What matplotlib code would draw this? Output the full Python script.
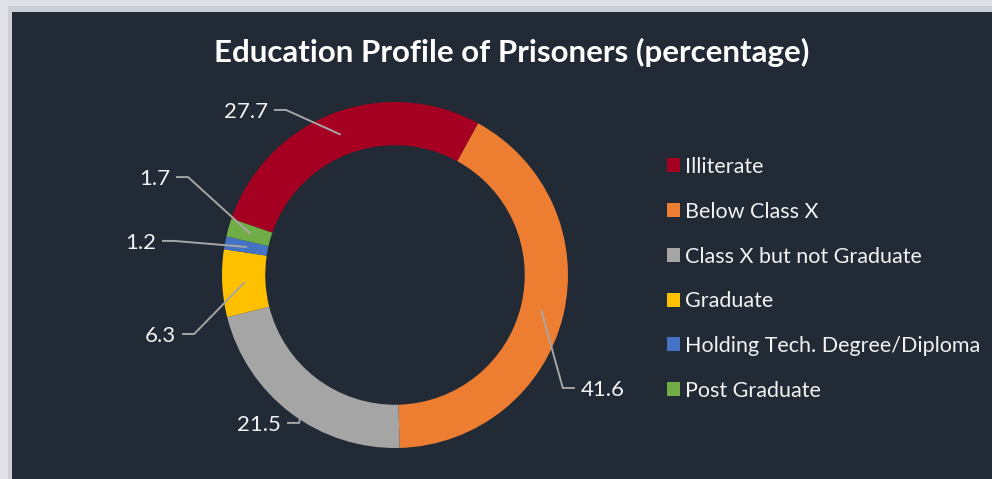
import matplotlib
matplotlib.use("Agg")
import matplotlib.pyplot as plt
from matplotlib.patches import Rectangle
import numpy as np

# data
categories = ["Illiterate", "Below Class X", "Class X but not Graduate",
              "Graduate", "Holding Tech. Degree/Diploma", "Post Graduate"]
shares = [27.7, 41.6, 21.5, 6.3, 1.2, 1.7]
colors = ["#a50021", "#ed7d31", "#a5a5a5", "#ffc000", "#4472c4", "#70ad47"]

# where each value label sits (data units, ring radius = 1)
label_anchor = [(-0.70, 0.954), (1.04, -0.653), (-0.624, -0.855),
                (-1.231, -0.341), (-1.347, 0.197), (-1.266, 0.566)]

W, H, DPI = 992, 479, 100
CX, CY, R = 395, 275, 173  # pixel centre and outer radius of the ring
PANEL = "#222a35"

fig = plt.figure(figsize=(W / DPI, H / DPI), dpi=DPI)
fig.patch.set_facecolor("#dfe1e6")
# soft shadow + dark panel, kept under the axes
fig.patches.append(Rectangle((8 / W, -0.1), 1.2, 1 - 6 / H + 0.1, transform=fig.transFigure,
                             facecolor="#cbced5", edgecolor="none", zorder=-2))
fig.patches.append(Rectangle((12 / W, -0.1), 1.2, 1 - 12 / H + 0.1, transform=fig.transFigure,
                             facecolor=PANEL, edgecolor="none", zorder=-1))

ax = fig.add_axes([0, 0, 1, 1])
ax.set_facecolor("none")
wedges, _ = ax.pie(shares, colors=colors, startangle=161, counterclock=False,
                   radius=1, wedgeprops=dict(width=0.25, edgecolor="none"))
ax.set_xlim(-CX / R, (W - CX) / R)
ax.set_ylim(-(H - CY) / R, CY / R)
ax.set_aspect("auto")
ax.axis("off")

for w, val, (lx, ly) in zip(wedges, shares, label_anchor):
    mid = np.deg2rad((w.theta1 + w.theta2) / 2)
    px, py = 0.87 * np.cos(mid), 0.87 * np.sin(mid)
    side = 1 if lx < 0 else -1  # +1: label left of ring
    kx = lx + side * 0.07
    ax.plot([lx, kx, px], [ly, ly, py], color="#a6a6a6", lw=1.4, zorder=3,
            solid_capstyle="butt")
    ax.text(lx - side * 0.035, ly - 0.012, f"{val}", ha="right" if side > 0 else "left",
            va="center", color="#f2f2f2", fontsize=16, family="Lato", zorder=4)

fig.text(512 / W, 1 - 52 / H, "Education Profile of Prisoners (percentage)",
         ha="center", va="center", color="white", fontsize=22.5, fontweight="bold",
         family="Lato")

leg = ax.legend(wedges, categories, loc="upper left",
                bbox_to_anchor=(667 / W, 1 - 157 / H), bbox_transform=fig.transFigure,
                frameon=False, borderpad=0, borderaxespad=0, handlelength=0.62,
                handleheight=0.62, handletextpad=0.22, labelspacing=1.15,
                prop=dict(family="Lato", size=15.5))
for t in leg.get_texts():
    t.set_color("#f2f2f2")

fig.savefig("out.png", dpi=DPI, facecolor=fig.get_facecolor())
